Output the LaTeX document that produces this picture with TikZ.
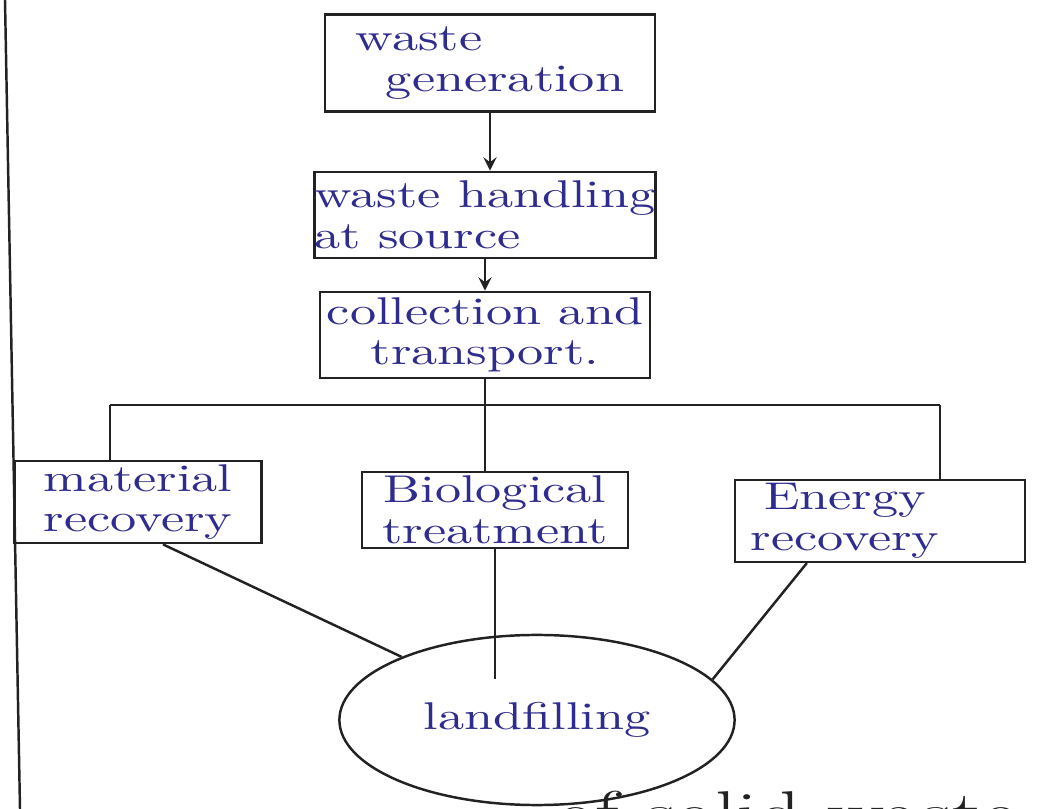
\documentclass[tikz,border=0pt]{standalone}
\usepackage{fontspec}
\usetikzlibrary{shapes.geometric,calc}
\newfontfamily\handfont[FakeStretch=1.35]{Latin Modern Roman}
\definecolor{ink}{HTML}{2E2C8E}
\definecolor{pen}{HTML}{222222}
\begin{document}
\begin{tikzpicture}[x=0.01cm, y=-0.01cm, >=stealth, line width=0.7pt, draw=pen,
        box/.style={draw=pen, rectangle, text=ink, align=center, inner sep=1pt,
            font=\handfont\fontsize{11}{11.5}\selectfont},
        blob/.style={draw=pen, ellipse, text=ink,
            font=\handfont\fontsize{11}{11.5}\selectfont}]
        \useasboundingbox (0,0) rectangle (1041,809);
        % Margin
        \draw[pen] (5,0) -- (20,809);

        % Boxes
        \node[box, minimum width=3.3cm, minimum height=0.97cm, align=left] (gen) at (490,63) {waste\\ \hspace*{0.3cm}generation};
        \node[box, minimum width=3.25cm, minimum height=0.86cm, align=left, inner xsep=0pt] (src) at (485,215) {waste handling\\ at source};
        \node[box, minimum width=3.3cm, minimum height=0.86cm] (trans) at (485,335) {collection and\\ transport.};
        \node[box, minimum width=2.47cm, minimum height=0.75cm] (mat) at (138,502) {material\\ recovery};
        \node[box, minimum width=2.66cm, minimum height=0.76cm] (bio) at (495,510) {Biological\\ treatment};
        \node[box, minimum width=2.9cm, minimum height=0.72cm] (energy) at (880,521) {\hspace*{-0.7cm}Energy\\ \hspace*{-0.7cm}recovery};
        \node[blob, minimum width=3.95cm, minimum height=1.7cm] (land) at (537,720) {\raisebox{-1.5ex}{landfilling}};

        % Arrows
        \draw[->] (gen.south) -- (gen.south |- src.north);
        \draw[->] (src.south) -- (src.south |- trans.north);

        % Branches
        \coordinate (busL) at (110,405);
        \coordinate (busR) at (940,405);
        \draw (trans.south) -- (trans.south |- busL);
        \draw (busL) -- (busR);
        \draw (busL) -- (busL |- mat.north);
        \draw (trans.south |- busL) -- (trans.south |- bio.north);
        \draw (busR) -- (busR |- energy.north);

        % To landfill
        \draw ($(mat.south west)!0.6!(mat.south east)$) -- (land.155);
        \draw (bio.south) -- ($(bio.south |- land.north)+(0,45)$);
        \draw ($(energy.south west)!0.25!(energy.south east)$) -- (land.13);

        % Caption (cut off)
        \node[anchor=north east, text=pen, font=\handfont\fontsize{18}{20}\selectfont] (cap) at (1030,778) {of solid waste};
    \end{tikzpicture}
\end{document}
